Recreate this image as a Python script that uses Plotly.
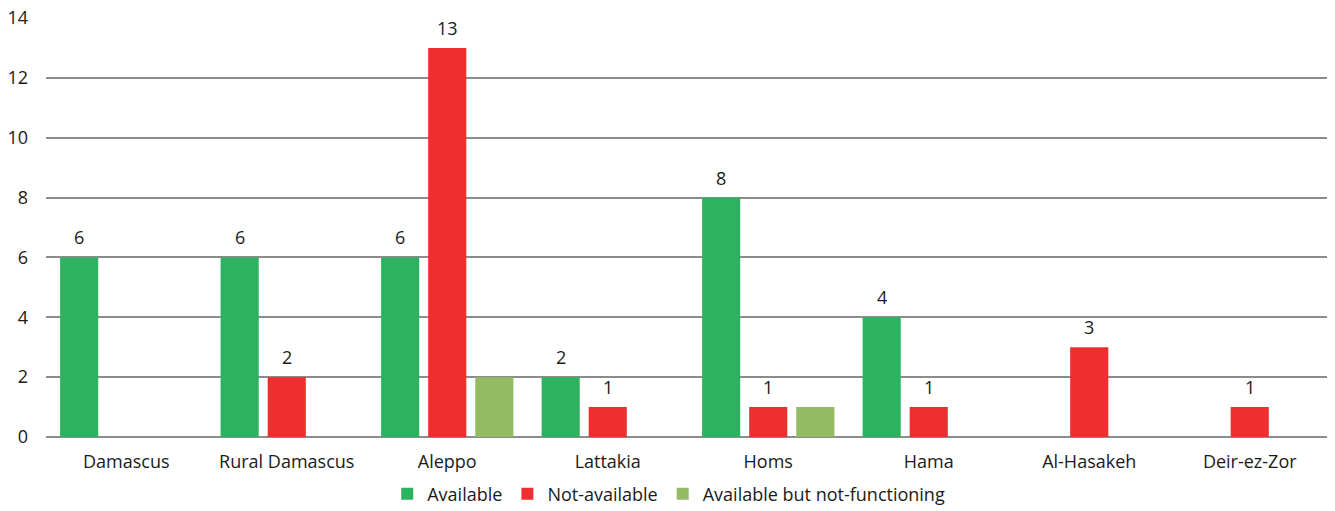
import plotly.graph_objects as go

categories = ["Damascus", "Rural Damascus", "Aleppo", "Lattakia", "Homs", "Hama", "Al-Hasakeh", "Deir-ez-Zor"]
available = [6, 6, 6, 2, 8, 4, None, None]
not_available = [None, 2, 13, 1, 1, 1, 3, 1]
not_functioning = [None, None, 2, None, 1, None, None, None]

FONT = "Open Sans"
FS = 18
BARGAP = 0.12

series = [
    ("Available", available, "#2db35f", True),
    ("Not-available", not_available, "#ee2e2f", True),
    ("Available but not-functioning", not_functioning, "#93bb63", False),
]

fig = go.Figure()
n = len(series)
slot = (1 - BARGAP) / n
annotations = []
for k, (name, vals, color, labelled) in enumerate(series):
    fig.add_trace(go.Bar(
        x=categories, y=vals, name=name,
        marker=dict(color=color, line=dict(width=0)),
    ))
    if labelled:
        off = (k - (n - 1) / 2) * slot
        for i, v in enumerate(vals):
            if v is None:
                continue
            annotations.append(dict(
                x=i + off, y=v, xref="x", yref="y", text=str(v),
                showarrow=False, yanchor="middle", xanchor="center", yshift=20,
                font=dict(size=FS, family=FONT, color="#1a1a1a"),
            ))

fig.update_layout(
    width=1335, height=511,
    margin=dict(l=38, r=13, t=10, b=82, autoexpand=False),
    paper_bgcolor="white", plot_bgcolor="white",
    barmode="group", bargap=BARGAP, bargroupgap=0.19,
    font=dict(family=FONT, size=FS, color="#1a1a1a"),
    showlegend=True,
    legend=dict(orientation="h", x=0.485, xanchor="center",
                y=0.049, yref="container", yanchor="middle",
                font=dict(size=FS, family=FONT), itemwidth=30, tracegroupgap=0),
    annotations=annotations,
)
fig.update_yaxes(
    range=[0, 14], dtick=2, showgrid=True, gridcolor="#8c8c8c", gridwidth=1.5,
    zeroline=True, zerolinecolor="#8c8c8c", zerolinewidth=1.5,
    showline=False, ticks="", ticklabelstandoff=17, automargin=False,
    ticklabeloverflow="allow",
    tickfont=dict(size=FS, family=FONT),
)
fig.update_xaxes(
    showgrid=False, showline=False, ticks="", ticklabelstandoff=12, automargin=False,
    ticklabeloverflow="allow",
    tickfont=dict(size=FS, family=FONT),
)

fig.write_html("out.html")
